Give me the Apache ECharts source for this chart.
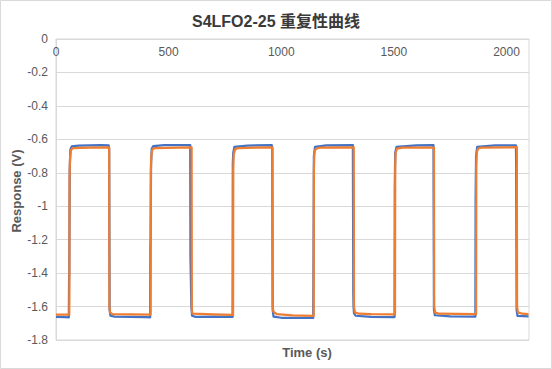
<!DOCTYPE html>
<html>
<head>
<meta charset="utf-8">
<script src="https://cdn.jsdelivr.net/npm/echarts@6/dist/echarts.min.js"></script>
<style>
html,body{margin:0;padding:0;background:#fff;}
#chart{width:552px;height:369px;}
</style>
</head>
<body>
<div id="chart"></div>
<script>
// ---- data ----
var titleText = 'S4LFO2-25 重复性曲线';
var xAxisName = 'Time (s)';
var yAxisName = 'Response (V)';
var xTicks = [0, 500, 1000, 1500, 2000];
var yTicks = [0, -0.2, -0.4, -0.6, -0.8, -1, -1.2, -1.4, -1.6, -1.8];

// blue trace [time (s), response (V)]
var blueSeries = [
  [0,-1.662],[40,-1.663],[57,-1.664],[58,-1.45],[59,-1.40],[61,-0.78],[64,-0.66],[70,-0.642],[100,-0.637],[150,-0.636],[200,-0.635],[234,-0.636],
  [236,-0.66],[238,-1.62],[242,-1.655],[260,-1.66],[330,-1.662],[400,-1.663],[418,-1.664],[419,-1.25],[420,-1.20],[422,-0.75],[425,-0.655],[432,-0.64],
  [480,-0.635],[550,-0.634],[596,-0.634],[597,-1.30],[599,-1.30],[601,-1.60],[604,-1.655],[620,-1.662],[700,-1.66],[784,-1.662],[785,-0.74],[787,-0.68],
  [792,-0.645],[850,-0.637],[958,-0.635],[960,-0.66],[962,-1.62],[966,-1.66],[1000,-1.667],[1100,-1.668],[1142,-1.668],[1143,-1.42],[1145,-0.70],
  [1150,-0.645],[1200,-0.636],[1318,-0.634],[1320,-1.52],[1321,-1.60],[1323,-1.64],[1330,-1.655],[1400,-1.662],[1503,-1.663],[1504,-0.9],[1506,-0.68],
  [1512,-0.645],[1600,-0.636],[1676,-0.635],[1678,-1.62],[1682,-1.652],[1750,-1.658],[1862,-1.66],[1863,-0.95],[1865,-0.70],[1870,-0.645],[1950,-0.636],
  [2042,-0.636],[2043,-0.75],[2045,-1.62],[2049,-1.655],[2098,-1.658]
];

// orange trace [time (s), response (V)]
var orangeSeries = [
  [0,-1.648],[59,-1.648],[60,-0.85],[62,-0.72],[66,-0.665],[75,-0.652],[150,-0.650],[236,-0.648],[237,-1.60],[240,-1.635],[250,-1.645],[420,-1.648],
  [421,-0.80],[423,-0.70],[428,-0.66],[440,-0.652],[602,-0.648],[603,-1.62],[606,-1.642],[700,-1.647],[786,-1.650],[787,-0.78],[789,-0.69],[795,-0.66],
  [810,-0.652],[961,-0.648],[962,-1.60],[965,-1.630],[980,-1.645],[1050,-1.653],[1144,-1.655],[1145,-0.78],[1147,-0.68],[1153,-0.658],[1170,-0.650],
  [1322,-0.648],[1323,-1.60],[1327,-1.635],[1345,-1.643],[1400,-1.646],[1505,-1.647],[1506,-0.76],[1508,-0.68],[1514,-0.656],[1540,-0.650],[1678,-0.649],
  [1679,-1.60],[1683,-1.635],[1700,-1.643],[1865,-1.646],[1866,-0.76],[1868,-0.68],[1874,-0.655],[1890,-0.649],[2046,-0.647],[2047,-1.60],[2051,-1.635],
  [2070,-1.643],[2098,-1.645]
];

var FONT = '"Liberation Sans", Arial, "Noto Sans CJK SC", sans-serif';
var chart = echarts.init(document.getElementById('chart'), null, {renderer: 'svg'});
chart.setOption({
  animation: false,
  backgroundColor: '#ffffff',
  title: {
    text: titleText,
    left: 'center',
    top: 8,
    textStyle: {fontFamily: FONT, fontSize: 16, fontWeight: 'bold', color: '#3a3a3a'}
  },
  grid: {left: 56, right: 23, top: 39, bottom: 29, show: true, borderColor: '#d9d9d9', borderWidth: 1},
  xAxis: {
    type: 'value',
    position: 'top',
    min: 0, max: 2100, interval: 500,
    axisLine: {show: true, onZero: false, lineStyle: {color: '#d9d9d9'}},
    axisTick: {show: false},
    splitLine: {show: false},
    axisLabel: {
      inside: true, margin: 7, fontFamily: FONT, fontSize: 12, color: '#595959',
      formatter: function (v) { return xTicks.indexOf(v) >= 0 ? String(v) : ''; }
    }
  },
  yAxis: {
    type: 'value',
    min: -1.8, max: 0, interval: 0.2,
    axisLine: {show: true, onZero: false, lineStyle: {color: '#d9d9d9'}},
    axisTick: {show: false},
    splitLine: {show: true, lineStyle: {color: '#d9d9d9', width: 1}},
    axisLabel: {
      margin: 8, fontFamily: FONT, fontSize: 12, color: '#595959',
      formatter: function (v) {
        var r = Math.round(v * 10) / 10;
        for (var i = 0; i < yTicks.length; i++) { if (Math.abs(yTicks[i] - r) < 1e-9) return String(yTicks[i]); }
        return '';
      }
    }
  },
  graphic: [
    {type: 'rect', shape: {x: 0.5, y: 0.5, width: 551, height: 368}, style: {fill: 'none', stroke: '#d9d9d9', lineWidth: 1}, silent: true},
    {type: 'text', x: 307, y: 352, style: {text: xAxisName, fontFamily: FONT, fontSize: 13, fontWeight: 'bold', fill: '#595959', textAlign: 'center', textVerticalAlign: 'middle'}},
    {type: 'text', x: 16, y: 191, rotation: Math.PI / 2, style: {text: yAxisName, fontFamily: FONT, fontSize: 13, fontWeight: 'bold', fill: '#595959', textAlign: 'center', textVerticalAlign: 'middle'}}
  ],
  series: [
    {type: 'line', name: 'blue', data: blueSeries, showSymbol: false, symbol: 'none', z: 2,
     lineStyle: {color: '#4472C4', width: 2.25, join: 'round'}},
    {type: 'line', name: 'orange', data: orangeSeries, showSymbol: false, symbol: 'none', z: 3,
     lineStyle: {color: '#ED7D31', width: 2.25, join: 'round'}}
  ]
});
</script>
</body>
</html>
